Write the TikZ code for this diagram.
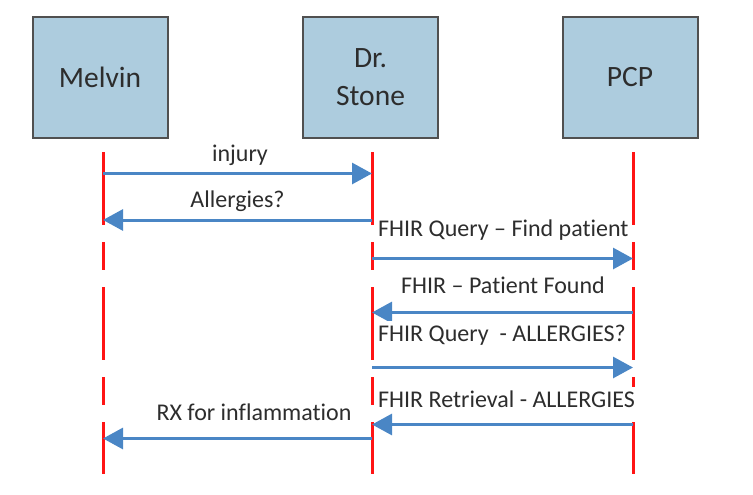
\documentclass[tikz,border=0pt]{standalone}
\usepackage{fontspec}
\setmainfont{Carlito}[Ligatures={NoCommon}]
\usetikzlibrary{arrows.meta}
\definecolor{boxfill}{RGB}{173,204,222}
\definecolor{boxline}{RGB}{80,80,80}
\definecolor{msgblue}{RGB}{74,134,197}
\definecolor{lifered}{RGB}{255,20,20}
\definecolor{txt}{RGB}{45,45,45}
\tikzset{
  actor/.style={draw=boxline, line width=2pt, fill=boxfill, minimum width=135pt, minimum height=121.5pt,
    inner sep=0pt, align=center, text=txt, font=\fontsize{29.5}{38.5}\selectfont},
  lifeline/.style={draw=lifered, line width=3pt, dash pattern=on 73pt off 17pt on 28pt off 17pt},
  msg/.style={draw=msgblue, line width=3pt, -{Triangle[length=20pt,width=21pt]}},
  lbl/.style={fill=white, text=txt, inner xsep=0pt, inner ysep=4pt, font=\fontsize{24}{29}\selectfont}
}
\begin{document}
\begin{tikzpicture}[x=1pt,y=-1pt]
\useasboundingbox (0,0) rectangle (753,495);
% actors
\node[actor] (m) at (100,77.3) {Melvin};
\node[actor] (s) at (370.5,77.3) {Dr.\\Stone};
\node[actor] (p) at (630,77.3) {PCP};
% lifeline ends
\coordinate (mt) at (103,152); \coordinate (mb) at (103,474);
\coordinate (st) at (372,152); \coordinate (sb) at (372,474);
\coordinate (pt) at (633,152); \coordinate (pb) at (633,474);
\draw[lifeline] (mt) -- (mb);
\draw[lifeline] (st) -- (sb);
\draw[lifeline] (pt) -- (pb);
% message end points
\coordinate (m1) at (103,173.5); \coordinate (s1) at (372,173.5);
\coordinate (m2) at (103,220);   \coordinate (s2) at (372,220);
\coordinate (s3) at (372,258.5); \coordinate (p3) at (633,258.5);
\coordinate (s4) at (372,312.5); \coordinate (p4) at (633,312.5);
\coordinate (s5) at (372,367.5); \coordinate (p5) at (633,367.5);
\coordinate (s6) at (372,424.5); \coordinate (p6) at (633,424.5);
\coordinate (m7) at (103,438.5); \coordinate (s7) at (372,438.5);
% messages
\draw[msg] (m1) -- (s1);
\draw[msg] (s2) -- (m2);
\draw[msg] (s3) -- (p3);
\draw[msg] (p4) -- (s4);
\draw[msg] (s5) -- (p5);
\draw[msg] (p6) -- (s6);
\draw[msg] (s7) -- (m7);
% labels
\node[lbl] (l1) at (240,155) {injury};
\node[lbl] (l2) at (237.5,201) {Allergies?};
\node[lbl, anchor=west] (l3) at (378,230) {FHIR Query – Find patient};
\node[lbl] (l4) at (503,285) {FHIR – Patient Found};
\node[lbl, anchor=west] (l5) at (378,335) {FHIR Query \ - ALLERGIES?};
\node[lbl, anchor=west] (l6) at (378,399.5) {FHIR Retrieval - ALLERGIES};
\node[lbl] (l7) at (254,412) {RX for inflammation};
\end{tikzpicture}
\end{document}
